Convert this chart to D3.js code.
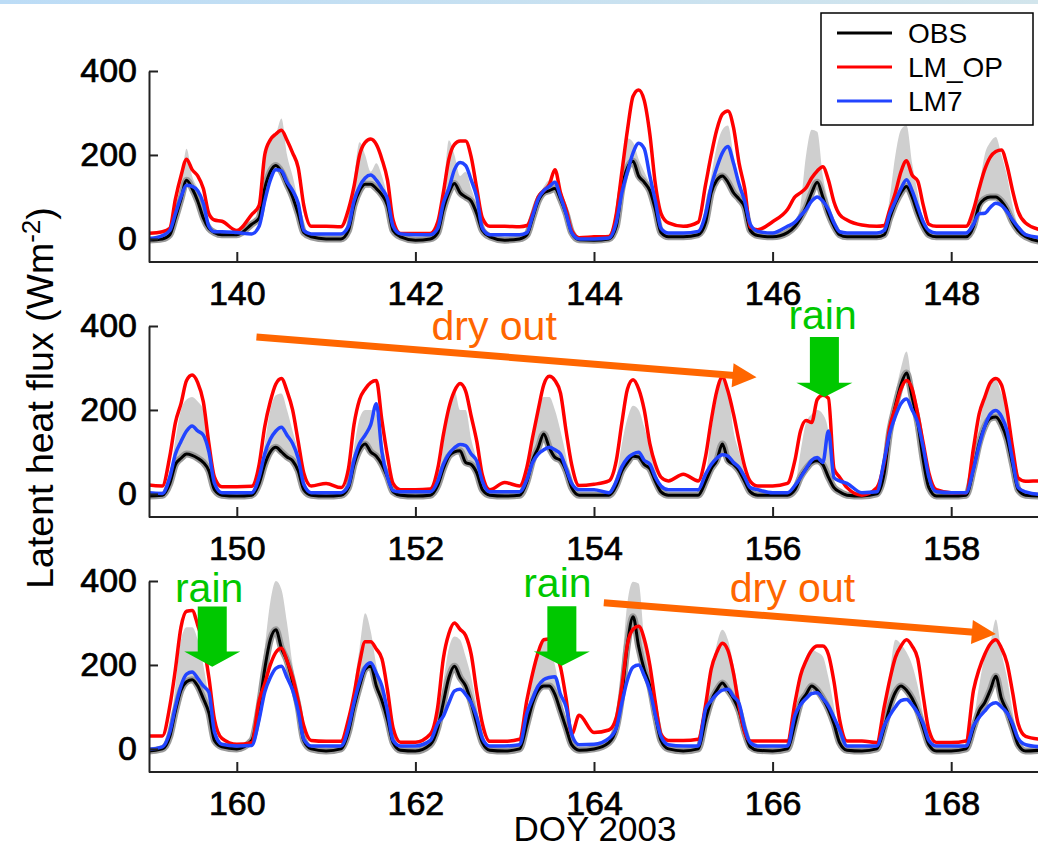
<!DOCTYPE html>
<html><head><meta charset="utf-8">
<script src="https://cdn.jsdelivr.net/npm/d3@7"></script>
<style>
body{margin:0;background:#fff}
svg{display:block}
text{font-family:"Liberation Sans",Arial,Helvetica,sans-serif}
</style>
</head><body>
<svg id="chart" width="1038" height="848"></svg>
<script>
// ---------- DATA ----------
const days = [139,140,141,142,143,144,145,146,147,148,149,150,151,152,153,154,155,156,157,158,159,160,161,162,163,164,165,166,167,168];
const hourGrid = [0,4,6,7.5,9,10.5,12,13.5,15,16.5,18,20];
const endDoy = 169;

// Latent heat flux (W m-2), one row per day, values at hourGrid
const lmOp = [
[13,17,25,95,150,190,165,150,120,60,45,42],
[20,58,80,200,236,250,259,235,205,170,80,30],
[30,29,70,125,200,230,238,225,190,140,45,13],
[13,13,40,110,190,225,233,233,195,120,50,30],
[30,29,32,60,100,115,130,165,110,70,20,3],
[5,6,60,160,260,340,355,330,250,130,61,38],
[30,40,130,200,260,297,305,265,180,120,28,22],
[41,70,100,110,122,145,162,172,140,88,58,45],
[33,30,32,70,110,160,186,152,138,80,35,30],
[30,30,70,120,165,195,208,212,175,115,65,38],
[22,19,90,170,215,270,283,265,220,120,40,17],
[17,18,70,160,220,262,275,245,200,125,50,19],
[25,15,60,165,225,250,265,270,175,90,25,10],
[10,12,60,140,205,245,263,245,185,125,45,10],
[27,19,65,135,200,260,280,270,240,150,70,20],
[23,31,80,170,250,272,250,200,120,70,40,31],
[47,31,90,175,245,278,245,190,125,65,30,19],
[19,25,80,150,175,170,225,235,228,60,40,15],
[-3,15,75,160,205,250,270,250,190,120,50,10],
[3,3,110,190,230,265,275,260,200,110,38,30],
[31,31,102,190,290,328,330,295,250,170,70,25],
[11,15,115,155,200,230,240,210,170,115,55,20],
[18,18,70,130,205,255,255,238,215,140,50,16],
[16,35,100,215,275,300,285,270,225,135,60,18],
[18,23,118,180,230,260,262,235,195,120,35,80],
[39,45,75,150,250,285,292,262,200,110,35,20],
[20,23,105,190,230,252,235,180,100,40,19,19],
[19,19,110,175,210,235,245,245,225,160,70,19],
[19,15,100,165,218,245,260,245,215,125,45,15],
[15,19,140,190,225,250,260,240,205,135,60,30]
];
const lm7 = [
[0,8,20,60,100,128,125,115,85,30,17,17],
[15,12,30,90,140,165,162,135,115,85,20,12],
[12,12,30,90,125,145,152,140,120,95,30,12],
[10,10,25,85,120,165,182,175,140,100,25,10],
[10,10,15,55,95,115,125,135,100,60,15,0],
[0,2,40,110,160,205,228,215,150,90,25,14],
[14,18,60,125,170,205,220,180,130,90,35,18],
[14,30,40,55,70,90,100,90,70,38,17,14],
[14,14,20,60,90,120,141,115,77,40,20,14],
[14,14,35,60,61,75,85,80,65,45,28,10],
[3,1,40,95,125,150,162,150,140,100,25,3],
[3,3,40,95,130,150,159,140,120,85,23,3],
[3,3,20,80,120,140,165,215,100,40,8,5],
[5,5,30,70,95,110,118,115,95,78,30,5],
[5,5,35,75,95,105,111,105,95,60,25,10],
[10,3,30,65,85,95,99,80,71,40,19,10],
[10,10,47,70,85,93,90,75,63,40,15,10],
[3,3,20,39,60,80,87,75,150,39,31,25],
[3,5,80,145,185,215,226,200,170,110,40,5],
[3,3,60,115,160,190,199,185,150,80,15,5],
[-1,5,40,100,150,178,183,168,150,135,40,11],
[7,8,70,135,170,192,197,170,140,90,23,7],
[7,7,50,110,160,195,205,180,150,90,20,7],
[7,20,60,78,110,138,142,130,110,75,25,7],
[7,10,86,120,150,165,170,172,130,100,35,10],
[11,25,50,110,165,195,200,175,140,80,30,10],
[7,7,95,115,130,140,142,125,108,50,15,7],
[7,7,80,105,120,132,134,120,102,75,45,7],
[7,7,55,80,100,115,118,105,86,60,20,7],
[7,7,55,75,90,105,110,100,86,60,25,10]
];
const obs = [
[-3,0,10,50,95,140,120,90,50,25,15,10],
[10,35,50,120,160,175,160,130,100,60,15,5],
[0,0,20,80,115,130,130,120,105,80,20,5],
[-3,0,15,70,110,132,110,100,90,60,20,5],
[-3,0,10,50,90,110,115,120,95,60,15,-2],
[-3,0,30,120,170,185,150,135,115,70,15,5],
[5,10,40,110,140,150,135,110,95,75,20,8],
[5,15,30,50,75,110,135,100,60,30,10,5],
[5,5,10,50,85,110,125,100,61,30,10,5],
[5,5,30,80,95,100,100,90,70,40,20,5],
[-5,-3,25,70,85,95,92,85,75,55,10,-3],
[-5,-3,25,70,100,111,100,88,79,55,10,-3],
[-5,-3,15,70,105,119,100,90,70,40,5,-3],
[-5,-3,20,60,90,100,103,75,70,50,10,-3],
[-5,-3,30,80,110,143,110,87,80,55,15,-3],
[-3,-3,20,55,75,90,88,70,60,30,5,-3],
[-3,-3,30,60,80,119,80,70,55,30,5,-3],
[-3,-3,10,40,60,75,79,70,40,15,5,-3],
[-5,0,50,150,210,260,288,230,170,80,15,-5],
[-5,-3,60,120,160,180,183,165,130,70,10,-3],
[-5,0,30,90,140,160,165,150,120,86,20,5],
[0,20,100,190,260,284,240,210,160,100,20,0],
[-5,0,40,100,150,190,197,150,115,70,15,-3],
[-5,10,50,110,170,197,170,150,110,60,15,-3],
[-5,0,60,110,140,150,150,130,90,50,10,-3],
[0,15,50,130,250,315,244,189,150,80,20,0],
[-5,0,70,115,140,157,140,120,90,40,5,-3],
[-5,0,60,110,130,150,140,120,95,60,15,-3],
[-5,0,50,100,135,150,140,120,90,50,10,-5],
[-5,0,50,90,110,140,173,120,90,50,10,-5]
];
const obsMax = [
[0,5,20,70,130,215,150,120,80,40,20,12],
[12,35,60,180,235,250,287,200,150,90,25,8],
[2,2,25,140,230,200,160,180,150,100,25,8],
[2,3,30,110,235,200,150,160,120,80,25,8],
[2,3,15,60,100,125,140,140,110,70,20,2],
[2,3,40,150,240,230,190,160,130,80,20,8],
[8,12,60,150,220,260,270,200,140,90,25,10],
[8,20,40,80,200,260,255,150,90,40,15,8],
[8,8,20,100,200,260,270,180,110,40,15,8],
[8,8,40,120,200,230,243,200,150,80,30,8],
[0,0,40,130,200,225,231,220,200,120,20,2],
[0,0,40,120,200,235,239,200,150,100,20,0],
[0,0,25,110,180,200,200,190,130,60,10,0],
[0,0,30,120,200,247,200,200,130,80,15,0],
[0,0,40,130,200,231,231,200,150,90,20,0],
[0,0,40,120,180,210,200,160,110,60,10,0],
[0,0,40,150,230,279,250,150,100,50,10,0],
[0,0,20,100,170,190,200,190,150,30,10,0],
[0,2,60,170,240,300,339,260,190,90,20,0],
[0,2,80,160,230,271,271,240,200,100,20,0],
[0,2,40,150,260,290,290,260,200,120,30,5],
[2,25,120,240,350,400,380,300,200,120,30,2],
[0,2,50,150,240,323,280,200,150,90,20,0],
[0,15,70,160,240,268,260,220,170,100,25,0],
[0,2,80,170,240,260,250,200,130,70,15,0],
[2,20,70,200,350,398,394,260,180,100,25,2],
[0,2,90,180,250,284,260,200,130,60,10,0],
[0,2,80,160,220,236,230,220,170,100,20,0],
[0,2,80,180,260,250,230,200,150,80,15,0],
[0,2,70,150,220,250,308,230,170,90,20,0]
];
const endLmOp = 23, endLm7 = 5, endObs = -3, endObsMax = 0;

const seriesNames = ["OBS","LM_OP","LM7"];
const seriesColors = ["#000000","#ff0000","#2244ff"];
const yTicks = [0,200,400];
const panelRanges = [[139,149],[149,159],[159,169]];
const panelTicks = [[140,142,144,146,148],[150,152,154,156,158],[160,162,164,166,168]];

// annotations in data coordinates (panel index, DOY, flux)
const dryOutArrows = [{panel:1, x0:150.22, v0:374, x1:155.82, v1:278},{panel:2, x0:164.11, v0:348, x1:168.50, v1:274}];
const dryOutLabels = [{panel:1, x:152.18, v:367},{panel:2, x:165.52, v:351}];
const rainArrows = [{panel:1, x:156.58, top:374, base:265, tip:231},{panel:2, x:159.725, top:339, base:232, tip:196},{panel:2, x:163.64, top:340, base:232, tip:198}];
const rainLabels = [{panel:1, x:156.56, v:393},{panel:2, x:159.69, v:351},{panel:2, x:163.59, v:362}];

// ---------- DRAW ----------
const svg = d3.select("#chart");
const defs = svg.append("defs");
const grad = defs.append("linearGradient").attr("id","topband");
grad.append("stop").attr("offset","0%").attr("stop-color","#bcdcf6");
grad.append("stop").attr("offset","100%").attr("stop-color","#d2e5ec");
svg.append("rect").attr("x",0).attr("y",0).attr("width",1038).attr("height",4).attr("fill","url(#topband)");

function toPoints(rows, endV){
  const pts = [];
  days.forEach((d,i)=>hourGrid.forEach((h,j)=>pts.push({t:d+h/24, v:rows[i][j]})));
  pts.push({t:endDoy, v:endV});
  return pts;
}
const ptsObs = toPoints(obs, endObs);
const ptsMax = toPoints(obsMax, endObsMax);
const ptsOp = toPoints(lmOp, endLmOp);
const pts7 = toPoints(lm7, endLm7);
const ptsBand = ptsObs.map((p,i)=>({t:p.t, lo:p.v, hi:ptsMax[i].v}));

const panelTop = [71,326,581];
const panelH = 191;
const xLeft = 147.5, xRight = 1040.5, axisX = 149;

const scales = [];
panelRanges.forEach((rng,p)=>{
  const top = panelTop[p], bottom = top+panelH;
  const x = d3.scaleLinear().domain(rng).range([xLeft,xRight]);
  const y = d3.scaleLinear().domain([-55,400]).range([bottom,top]);
  scales.push({x,y});
  defs.append("clipPath").attr("id","clip"+p).append("rect")
    .attr("x",axisX).attr("y",top-40).attr("width",xRight-axisX).attr("height",panelH+40-1);
  const g = svg.append("g").attr("clip-path","url(#clip"+p+")");
  const inR = d => d.t >= rng[0]-0.3 && d.t <= rng[1]+0.3;
  const line = d3.line().x(d=>x(d.t)).y(d=>y(d.v)).curve(d3.curveMonotoneX);
  const area = d3.area().x(d=>x(d.t)).y0(d=>y(d.lo)).y1(d=>y(d.hi)).curve(d3.curveMonotoneX);
  g.append("path").datum(ptsBand.filter(inR)).attr("d",area).attr("fill","#cfcfcf");
  g.append("path").datum(ptsObs.filter(inR)).attr("d",line).attr("fill","none").attr("stroke","#9a9a9a").attr("stroke-width",7).attr("stroke-linejoin","round");
  g.append("path").datum(ptsObs.filter(inR)).attr("d",line).attr("fill","none").attr("stroke",seriesColors[0]).attr("stroke-width",3);
  g.append("path").datum(ptsOp.filter(inR)).attr("d",line).attr("fill","none").attr("stroke",seriesColors[1]).attr("stroke-width",3.5);
  g.append("path").datum(pts7.filter(inR)).attr("d",line).attr("fill","none").attr("stroke",seriesColors[2]).attr("stroke-width",3.5);

  const gy = svg.append("g").attr("transform",`translate(${axisX},0)`)
    .call(d3.axisLeft(y).tickValues(yTicks).tickSize(-9).tickSizeOuter(0).tickPadding(12));
  const gx = svg.append("g").attr("transform",`translate(0,${bottom})`)
    .call(d3.axisBottom(x).tickValues(panelTicks[p]).tickSize(-10).tickSizeOuter(0).tickPadding(19).tickFormat(d3.format("d")));
  [gy,gx].forEach(a=>{
    a.select(".domain").attr("stroke","#222").attr("stroke-width",2);
    a.selectAll(".tick line").attr("stroke","#222").attr("stroke-width",2);
    a.selectAll(".tick text").attr("font-size","34px").attr("fill","#000")
      .attr("stroke","#000").attr("stroke-width",0.7)
      .attr("font-family","Liberation Sans, Arial, sans-serif");
  });
  gx.select(".domain").attr("d",`M${axisX},0H${xRight}`);
});

// annotations
const orange = "#ff6600", green = "#00c800";
dryOutArrows.forEach(a=>{
  const {x,y} = scales[a.panel];
  const X0=x(a.x0), Y0=y(a.v0), X1=x(a.x1), Y1=y(a.v1);
  const L = Math.hypot(X1-X0,Y1-Y0), ux=(X1-X0)/L, uy=(Y1-Y0)/L;
  const hl=24, hw=12;
  const bx=X1-ux*hl, by=Y1-uy*hl;
  svg.append("line").attr("x1",X0).attr("y1",Y0).attr("x2",bx+ux*2).attr("y2",by+uy*2)
    .attr("stroke",orange).attr("stroke-width",7);
  svg.append("path").attr("d",`M${X1},${Y1}L${bx-uy*hw},${by+ux*hw}L${bx+uy*hw},${by-ux*hw}Z`).attr("fill",orange);
});
dryOutLabels.forEach(a=>{
  const {x,y} = scales[a.panel];
  svg.append("text").attr("x",x(a.x)).attr("y",y(a.v)).attr("font-size","41px").attr("fill",orange).text("dry out");
});
rainArrows.forEach(a=>{
  const {x,y} = scales[a.panel];
  const cx=x(a.x), sw=14.5, hw=28;
  svg.append("path").attr("d",
    `M${cx-sw},${y(a.top)}H${cx+sw}V${y(a.base)}H${cx+hw}L${cx},${y(a.tip)}L${cx-hw},${y(a.base)}H${cx-sw}Z`)
    .attr("fill",green);
});
rainLabels.forEach(a=>{
  const {x,y} = scales[a.panel];
  svg.append("text").attr("x",x(a.x)).attr("y",y(a.v)).attr("text-anchor","middle")
    .attr("font-size","41px").attr("fill",green).text("rain");
});

// axis titles
const yl = svg.append("text").attr("transform","translate(53,398) rotate(-90)")
  .attr("text-anchor","middle").attr("font-size","37.5px").attr("fill","#000");
yl.append("tspan").text("Latent heat flux (Wm");
yl.append("tspan").attr("dy",-13).attr("font-size","26px").text("-2");
yl.append("tspan").attr("dy",13).text(")");
svg.append("text").attr("x",595).attr("y",841).attr("text-anchor","middle")
  .attr("font-size","35px").attr("fill","#000").text("DOY 2003");

// legend
const lg = svg.append("g");
lg.append("rect").attr("x",821).attr("y",13).attr("width",212).attr("height",112)
  .attr("fill","#fff").attr("stroke","#000").attr("stroke-width",1.5);
const legY = [33,67,101];
seriesNames.forEach((n,i)=>{
  lg.append("line").attr("x1",837).attr("x2",892).attr("y1",legY[i]).attr("y2",legY[i])
    .attr("stroke",seriesColors[i]).attr("stroke-width",3);
  lg.append("text").attr("x",908).attr("y",legY[i]).attr("dy","0.35em")
    .attr("font-size","28px").attr("fill","#000").text(n);
});
</script>
</body></html>
